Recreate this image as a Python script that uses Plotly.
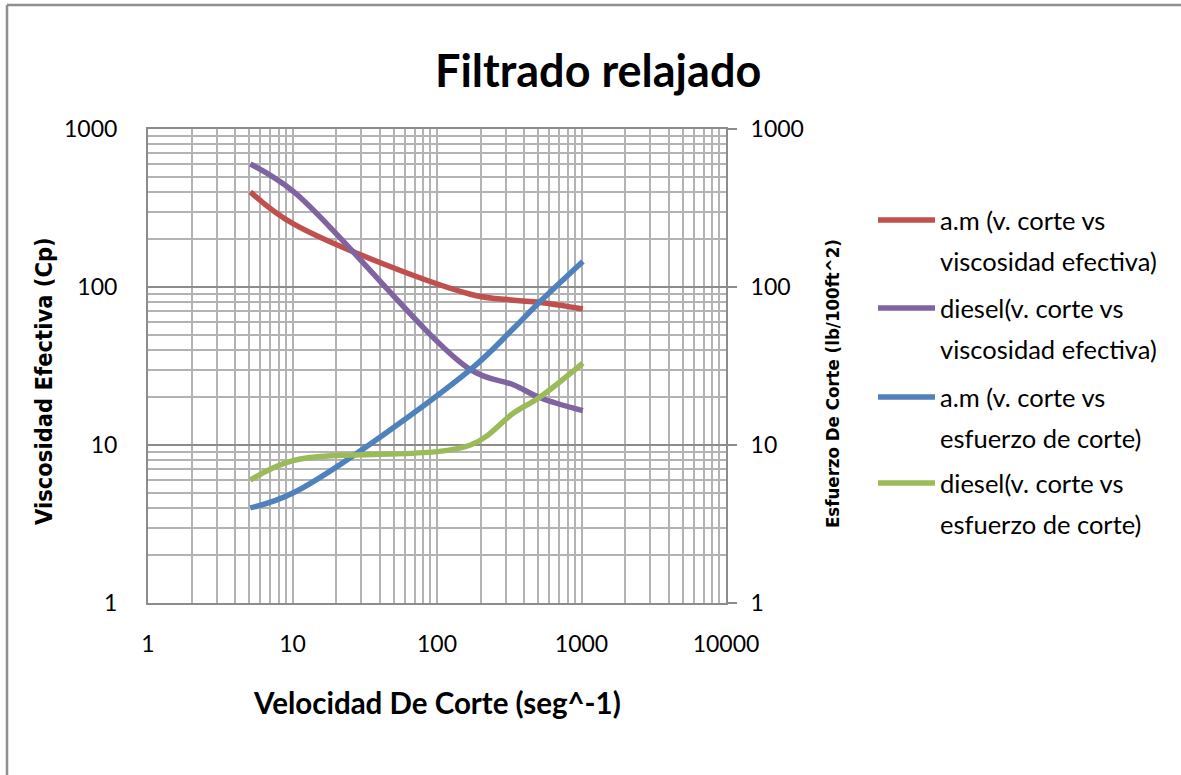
import plotly.graph_objects as go

# Fann viscometer readings: shear rate (1/s) for 3, 6, 100, 200, 300, 600 rpm
shear_rate = [5.11, 10.22, 170.3, 340.6, 510.9, 1021.8]

# effective viscosity (cP)
visc_am = [400, 250, 90, 82.5, 80, 72.5]
visc_diesel = [600, 400, 30, 24, 20, 16.5]

# shear stress (lb/100ft^2)
stress_am = [4, 5, 30, 55, 80, 145]
stress_diesel = [6, 8, 10, 16, 20, 33]

series_names = [
    "a.m (v. corte vs viscosidad efectiva)",
    "diesel(v. corte vs viscosidad efectiva)",
    "a.m (v. corte vs esfuerzo de corte)",
    "diesel(v. corte vs esfuerzo de corte)",
]
legend_lines = [
    ("a.m (v. corte vs", "viscosidad efectiva)"),
    ("diesel(v. corte vs", "viscosidad efectiva)"),
    ("a.m (v. corte vs", "esfuerzo de corte)"),
    ("diesel(v. corte vs", "esfuerzo de corte)"),
]
colors = ["#C0504D", "#8064A2", "#4F81BD", "#9BBB59"]

x_ticks = [1, 10, 100, 1000, 10000]
y_ticks = [1, 10, 100, 1000]

W, H = 1181, 775
PL, PR, PT, PB = 148, 726, 129, 603


def px(x):
    return (x - PL) / (PR - PL)


def py(y):
    return (PB - y) / (PB - PT)


FONT = "Lato, 'Open Sans', sans-serif"
NARROW = "'Liberation Sans Narrow', 'DejaVu Sans Condensed', 'Roboto Condensed', Lato, sans-serif"
GRID = "#b3b3b3"
MAJOR = "#8c8c8c"

fig = go.Figure()
series = [
    (visc_am, "y"),
    (visc_diesel, "y"),
    (stress_am, "y2"),
    (stress_diesel, "y2"),
]
for (vals, ax), name, c in zip(series, series_names, colors):
    fig.add_trace(go.Scatter(
        x=shear_rate, y=vals, name=name, yaxis=ax, mode="lines",
        line=dict(color=c, width=5.5, shape="spline", smoothing=1.0),
        showlegend=False, hoverinfo="x+y+name",
    ))

axis_font = dict(family=FONT, size=23, color="#000000")

fig.update_layout(
    width=W, height=H,
    margin=dict(l=PL, r=W - PR, t=PT, b=H - PB),
    paper_bgcolor="white", plot_bgcolor="white",
    xaxis=dict(
        type="log", range=[0, 4], tickvals=x_ticks,
        ticktext=[str(v) for v in x_ticks],
        showgrid=True, gridcolor=GRID, gridwidth=1.8,
        minor=dict(dtick="D1", showgrid=True, gridcolor=GRID, gridwidth=1.8),
        showline=True, linecolor=MAJOR, linewidth=2, mirror=True,
        ticks="", tickfont=axis_font, ticklabelstandoff=19,
        zeroline=False,
    ),
    yaxis=dict(
        type="log", range=[0, 3], tickvals=y_ticks,
        ticktext=[str(v) for v in y_ticks],
        showgrid=True, gridcolor=MAJOR, gridwidth=1.8,
        minor=dict(dtick="D1", showgrid=True, gridcolor=GRID, gridwidth=1.8),
        showline=True, linecolor=MAJOR, linewidth=2, mirror=True,
        ticks="", tickfont=axis_font, ticklabelstandoff=24,
        zeroline=False,
    ),
    yaxis2=dict(
        type="log", range=[0, 3], tickvals=y_ticks,
        ticktext=[str(v) for v in y_ticks],
        overlaying="y", side="right", showgrid=False,
        showline=True, linecolor=MAJOR, linewidth=2,
        ticks="outside", ticklen=9, tickwidth=2, tickcolor=MAJOR,
        tickfont=axis_font, ticklabelstandoff=9,
        zeroline=False,
    ),
)

annotations = [
    dict(text="<b>Filtrado relajado</b>", x=px(598), y=py(70),
         font=dict(family=FONT, size=45, color="#000000")),
    dict(text="<b>Velocidad De Corte (seg^-1)</b>", x=px(437), y=py(702),
         font=dict(family=FONT, size=29.5, color="#000000")),
    dict(text="<b>Viscosidad Efectiva (Cp)</b>", x=px(44), y=py(381),
         textangle=-90,
         font=dict(family=NARROW, size=23.5, color="#000000")),
    dict(text="<b>Esfuerzo De Corte (lb/100ft^2)</b>", x=px(832), y=py(384),
         textangle=-90,
         font=dict(family=NARROW, size=18.5, color="#000000")),
]
for a in annotations:
    a.update(xref="paper", yref="paper", showarrow=False,
             xanchor="center", yanchor="middle")

shapes = [
    # outer chart frame (top and left edges)
    dict(type="line", xref="paper", yref="paper",
         x0=px(7), x1=px(W + 5), y0=py(5), y1=py(5),
         line=dict(color="#8f8f8f", width=2.5)),
    dict(type="line", xref="paper", yref="paper",
         x0=px(7), x1=px(7), y0=py(5), y1=py(H + 5),
         line=dict(color="#8f8f8f", width=2.5)),
]

# legend: sample line plus two text lines per series
leg_y = [220, 308, 397, 483]
for (l1, l2), c, yy in zip(legend_lines, colors, leg_y):
    shapes.append(dict(type="line", xref="paper", yref="paper",
                       x0=px(878), x1=px(935), y0=py(yy), y1=py(yy),
                       line=dict(color=c, width=5.5)))
    for txt, ty in ((l1, yy), (l2, yy + 41)):
        annotations.append(dict(
            text=txt, xref="paper", yref="paper", x=px(938), y=py(ty),
            xanchor="left", yanchor="middle", showarrow=False,
            font=dict(family=FONT, size=25.5, color="#000000")))

fig.update_layout(annotations=annotations, shapes=shapes)

fig.write_html("out.html")
